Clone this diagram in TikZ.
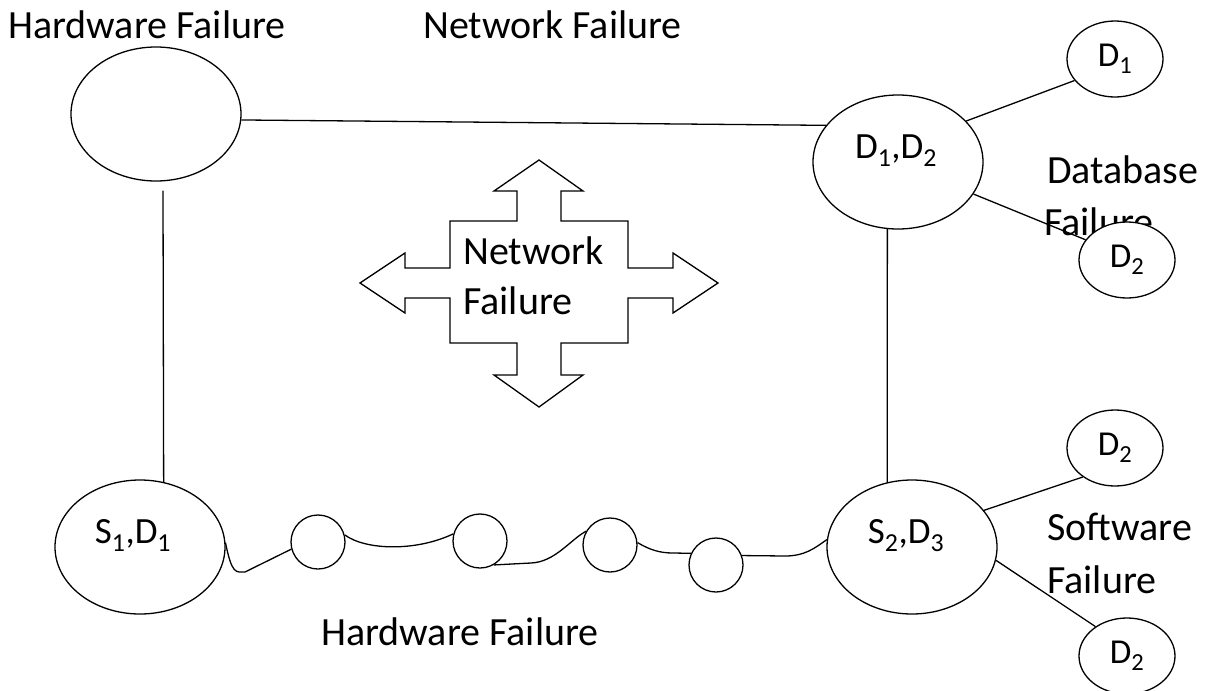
\documentclass[tikz,border=0pt]{standalone}
\usepackage{fontspec}
\setmainfont{Carlito}
\usetikzlibrary{shapes.geometric,backgrounds}
\begin{document}
\begin{tikzpicture}[x=1pt,y=-1pt,
  every node/.style={font=\fontsize{40}{48}\selectfont},
  big/.style={draw,ellipse,line width=1.3pt,minimum width=170pt,minimum height=134pt,inner sep=0pt,fill=white},
  small/.style={draw,ellipse,line width=1.3pt,minimum width=96pt,minimum height=76pt,inner sep=0pt,fill=white,font=\fontsize{35}{42}\selectfont},
  bead/.style={draw,circle,line width=1.3pt,minimum size=54pt,inner sep=0pt},
  sitename/.style={anchor=base,inner sep=0pt,font=\fontsize{37}{44}\selectfont},
  wire/.style={line width=1.3pt},
  caption/.style={anchor=base west,inner sep=0pt}
]
\useasboundingbox (0,0) rectangle (1208,691);

% sites
\node[big] (hw)  at (156,114) {};
\node[big] (d12) at (898,162) {};
\node[big] (s1)  at (140,547) {};
\node[big] (s23) at (912,547) {};
\node[sitename] (d12t) at (896,158) {D\textsubscript{1},D\textsubscript{2}};
\node[sitename] (s1t)  at (133,543) {S\textsubscript{1},D\textsubscript{1}};
\node[sitename] (s23t) at (906,543) {S\textsubscript{2},D\textsubscript{3}};

% replicas
\node[small] (da) at (1115,59)  {D\textsubscript{1}};
\node[small] (db) at (1127,260) {D\textsubscript{2}};
\node[small] (dc) at (1115,448) {D\textsubscript{2}};
\node[small] (dd) at (1127,656) {D\textsubscript{2}};

% beads on the hardware link
\node[bead] (c1) at (318,542) {};
\node[bead] (c2) at (480,541) {};
\node[bead] (c3) at (610,545) {};
\node[bead] (c4) at (716,565) {};

% captions
\begin{scope}[on background layer]
\node[caption] (t1) at (8,38)    {Hardware Failure};
\node[caption] (t2) at (423,38)  {Network Failure};
\node[caption] (t3) at (1047,183) {Database};
\node[caption] (t4) at (1044,235) {Failure};
\node[caption] (t5) at (1047,540) {Software};
\node[caption] (t6) at (1047,593) {Failure};
\node[caption] (t7) at (321,645) {Hardware Failure};
\end{scope}

% links between sites
\draw[wire] (hw.-4) -- (d12.153);
\draw[wire] ([xshift=7pt,yshift=-9pt]hw.south) -- (s1.70);
\draw[wire] (d12.261) -- (s23.111);
\draw[wire] (d12.31) -- (da.208);
\draw[wire] (d12.-23) -- (db.154);
\draw[wire] (s23.27) -- (dc.222);
\draw[wire] (s23.-9) -- (dd.137);

% wavy hardware link
\coordinate (w1) at (245,572);
\coordinate (w2) at (531,563);
\coordinate (w3) at (673,553);
\coordinate (w4) at (785,556);
\draw[wire] (s1.3) .. controls (232,575) and (236,572) .. (w1) -- (c1.195);
\draw[wire] (c1.15) .. controls (365,550) and (415,552) .. (c2.165);
\draw[wire] (c2.-60) -- (w2) .. controls (555,562) and (570,540) .. (c3.150);
\draw[wire] (c3.5) .. controls (650,550) and (660,553) .. (w3) -- (c4.155);
\draw[wire] (c4.20) -- (w4) .. controls (805,556) and (815,548) .. (s23.175);

% four-way network arrow
\draw[wire,line join=miter] (539,160) -- (583,191) -- (561,191) -- (561,221) -- (628,221)
  -- (628,268) -- (673,268) -- (673,253) -- (718,283) -- (673,313) -- (673,298) -- (628,298)
  -- (628,343) -- (561,343) -- (561,375) -- (583,375) -- (539,407) -- (494,375) -- (517,375)
  -- (517,343) -- (450,343) -- (450,298) -- (405,298) -- (405,313) -- (360,283) -- (405,253)
  -- (405,268) -- (450,268) -- (450,221) -- (517,221) -- (517,191) -- (494,191) -- cycle;
\node[caption] (n1) at (463,264) {Network};
\node[caption] (n2) at (463,314) {Failure};
\end{tikzpicture}
\end{document}
